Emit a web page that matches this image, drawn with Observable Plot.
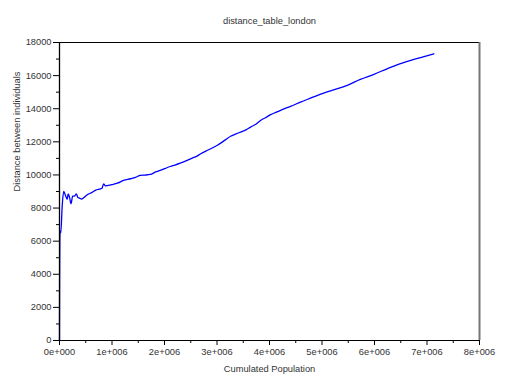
<!DOCTYPE html>
<html>
<head>
<meta charset="utf-8">
<script src="https://cdn.jsdelivr.net/npm/d3@7"></script>
<script src="https://cdn.jsdelivr.net/npm/@observablehq/plot@0.6"></script>
<style>
  html, body { margin: 0; padding: 0; background: #fff; }
  svg { display: block; }
</style>
</head>
<body>
<div id="chart"></div>
<script>
const title = "distance_table_london";
const xLabel = "Cumulated Population";
const yLabel = "Distance between individuals";

// Cumulated population (x) and distance (y)
const population = [
  0, 2000, 10000, 25000, 50000, 80000, 115000, 146000, 165000, 190000, 220000, 250000,
  285000, 320000, 350000, 380000, 420000, 460000, 530000, 620000, 690000, 780000,
  810000, 840000, 876000, 910000, 1000000, 1100000, 1220000, 1350000, 1450000, 1540000,
  1620000, 1730000, 1830000, 1920000, 2020000, 2110000, 2200000, 2300000, 2420000,
  2530000, 2610000, 2690000, 2840000, 3000000, 3160000, 3260000, 3350000, 3450000,
  3550000, 3640000, 3740000, 3830000, 3930000, 4020000, 4120000, 4210000, 4300000,
  4400000, 4590000, 4780000, 4940000, 5190000, 5480000, 5730000, 5990000, 6240000,
  6430000, 6690000, 6910000, 7130000
];
const distance = [
  0, 3000, 6600, 6500, 8050, 9000, 8760, 8520, 8860, 8660, 8260, 8720,
  8720, 8860, 8640, 8600, 8540, 8620, 8800, 8950, 9080, 9160,
  9200, 9460, 9340, 9360, 9420, 9500, 9670, 9770, 9860, 9970,
  9990, 10030, 10180, 10270, 10400, 10510, 10600, 10710, 10860,
  11020, 11120, 11280, 11520, 11780, 12120, 12340, 12460, 12590,
  12720, 12890, 13060, 13290, 13470, 13640, 13780, 13900, 14020,
  14140, 14400, 14640, 14840, 15110, 15410, 15770, 16080, 16410,
  16650, 16920, 17120, 17320
];

const xMajor = d3.range(0, 8000001, 1000000);
const xMinor = d3.range(500000, 8000000, 1000000);
const yMajor = d3.range(0, 18001, 2000);
const yMinor = d3.range(1000, 18000, 2000);

const data = population.map((x, i) => ({x, y: distance[i]}));
const fmtX = d => d === 0 ? "0e+000" : (d / 1e6) + "e+006";
const fmtY = d => String(d);

const textColor = "#333";
const fs = "9.3px";

const chart = Plot.plot({
  width: 506,
  height: 379,
  marginLeft: 59,
  marginRight: 27,
  marginTop: 42,
  marginBottom: 39,
  style: {fontFamily: "'Liberation Sans', Arial, sans-serif", fontSize: fs, color: textColor, background: "#fff"},
  x: {domain: [0, 8000000]},
  y: {domain: [0, 18000]},
  marks: [
    Plot.line(data, {x: "x", y: "y", stroke: "#0000ff", strokeWidth: 1.3, curve: "monotone-x"}),
    Plot.ruleY([18000], {stroke: "#000", strokeWidth: 1}),
    Plot.ruleX([8000000], {stroke: "#777", strokeWidth: 2}),
    Plot.ruleX([0], {stroke: "#000", strokeWidth: 1.3}),
    Plot.ruleY([0], {stroke: "#000", strokeWidth: 1}),
    Plot.axisY({ticks: yMajor, tickSize: 6, tickPadding: 2, tickFormat: fmtY, label: null, stroke: "#000", fill: textColor}),
    Plot.axisY({ticks: yMinor, tickSize: 3, tickFormat: () => "", label: null, stroke: "#000"}),
    Plot.axisX({ticks: xMajor, tickSize: 5, tickPadding: 3, tickFormat: fmtX, label: null, stroke: "#000", fill: textColor}),
    Plot.axisX({ticks: xMinor, tickSize: 3, tickFormat: () => "", label: null, stroke: "#000"}),
    Plot.text([title], {frameAnchor: "top", dy: -25, fill: textColor, fontSize: fs}),
    Plot.text([xLabel], {frameAnchor: "bottom", dy: 31, fill: textColor, fontSize: fs}),
    Plot.text([yLabel], {frameAnchor: "left", dx: -42, rotate: -90, fill: textColor, fontSize: fs})
  ]
});
document.getElementById("chart").appendChild(chart);
</script>
</body>
</html>
